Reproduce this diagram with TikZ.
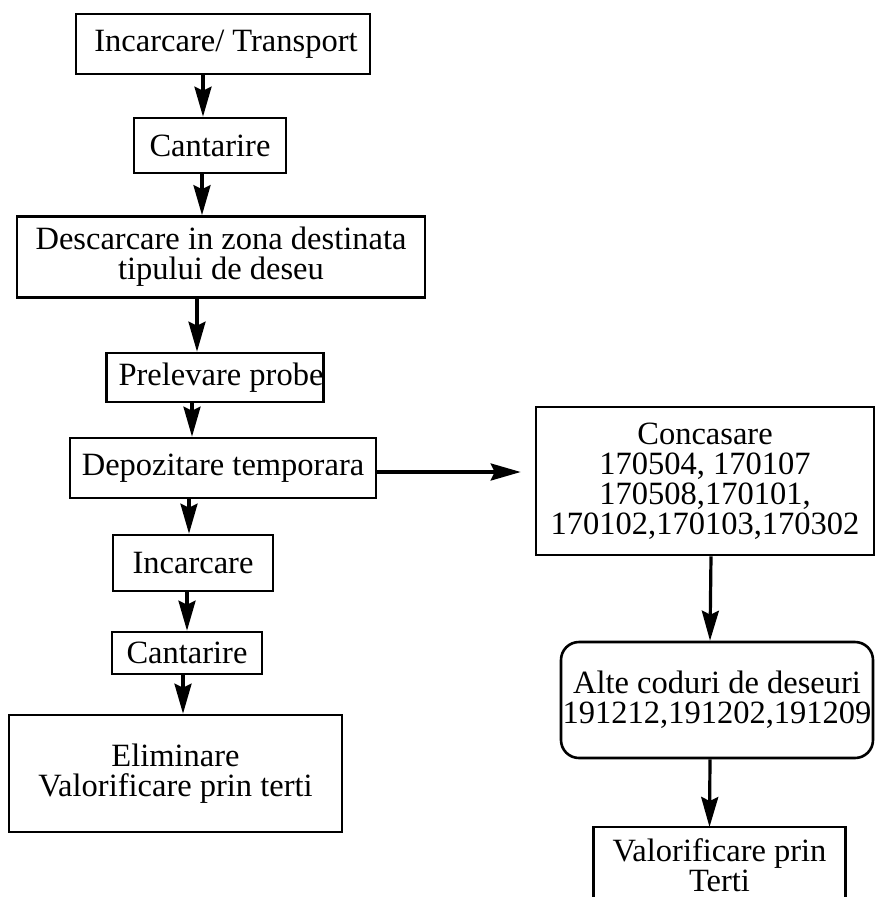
\documentclass[tikz,border=0pt]{standalone}
\usepackage{fontspec}
\setmainfont{Liberation Serif}
\usetikzlibrary{arrows.meta,calc}
\begin{document}
\begin{tikzpicture}[x=1pt,y=-1pt,
  box/.style={draw, line width=2.6pt, inner sep=0pt, align=center,
    font=\fontsize{32.5}{30}\selectfont},
  arr/.style={line width=3.2pt, -{Stealth[length=30pt,width=17pt,inset=4pt]}}]
\useasboundingbox (0,0) rectangle (876,897);
\clip (0,0) rectangle (876,897);

% main column
\node[box, minimum width=294pt, minimum height=60pt] (b1) at (223,44) {\hspace*{6pt}Incarcare/ Transport};
\node[box, minimum width=152pt, minimum height=55pt] (b2) at (210,145.5) {Cantarire};
\node[box, minimum width=408pt, minimum height=81pt] (b3) at (221,257) {Descarcare in zona destinata\\tipului de deseu};
\node[box, minimum width=216pt, minimum height=49pt] (b4) at (215,377.5) {\hspace*{12pt}Prelevare probe};
\node[box, minimum width=306pt, minimum height=60pt] (b5) at (223,468) {Depozitare temporara};
\node[box, minimum width=160pt, minimum height=56pt] (b6) at (193,563) {Incarcare};
\node[box, minimum width=150pt, minimum height=42pt] (b7) at (187,653) {Cantarire};
\node[box, minimum width=333pt, minimum height=117pt] (b8) at (175.5,773.5) {Eliminare\\Valorificare prin terti};

% right column
\node[box, minimum width=338pt, minimum height=148pt] (r1) at (705,481)
  {Concasare\\170504, 170107\\170508,170101,\\170102,170103,170302};
\node[box, rounded corners=18pt, minimum width=312pt, minimum height=116pt] (r2) at (717,700)
  {Alte coduri de deseuri\\191212,191202,191209};
% last box: text node, with its outline open towards the lower edge of the page
\node[box, draw=none, anchor=north, minimum width=249pt, text height=63.5pt] (r3)
  at (719.5,827) {Valorificare prin\\Terti};
\draw[line width=2.6pt] ($(r3.north west)+(0,90)$) -- (r3.north west)
  -- (r3.north east) -- ($(r3.north east)+(0,90)$);

% connectors
\draw[arr] ($(b1.south)+(-20,0)$) -- ($(b2.north)+(-7,0)$);
\draw[arr] ($(b2.south)+(-8,0)$) -- ($(b3.north)+(-19,0)$);
\draw[arr] ($(b3.south)+(-24,0)$) -- ($(b4.north)+(-18,0)$);
\draw[arr] ($(b4.south)+(-23,0)$) -- ($(b5.north)+(-31,0)$);
\draw[arr] ($(b5.south)+(-34,0)$) -- ($(b6.north)+(-4,0)$);
\draw[arr] ($(b6.south)+(-6,0)$) -- ($(b7.north)+(0,0)$);
\draw[arr] ($(b7.south)+(-4,0)$) -- ($(b8.north)+(7.5,0)$);
\draw[arr] ($(b5.east)+(0,4)$) -- ($(r1.west)+(-14,-9)$);
\draw[arr] ($(r1.south)+(6,0)$) -- ($(r2.north)+(-7,0)$);
\draw[arr] ($(r2.south)+(-7,0)$) -- ($(r3.north)+(-10,0)$);
\end{tikzpicture}
\end{document}
